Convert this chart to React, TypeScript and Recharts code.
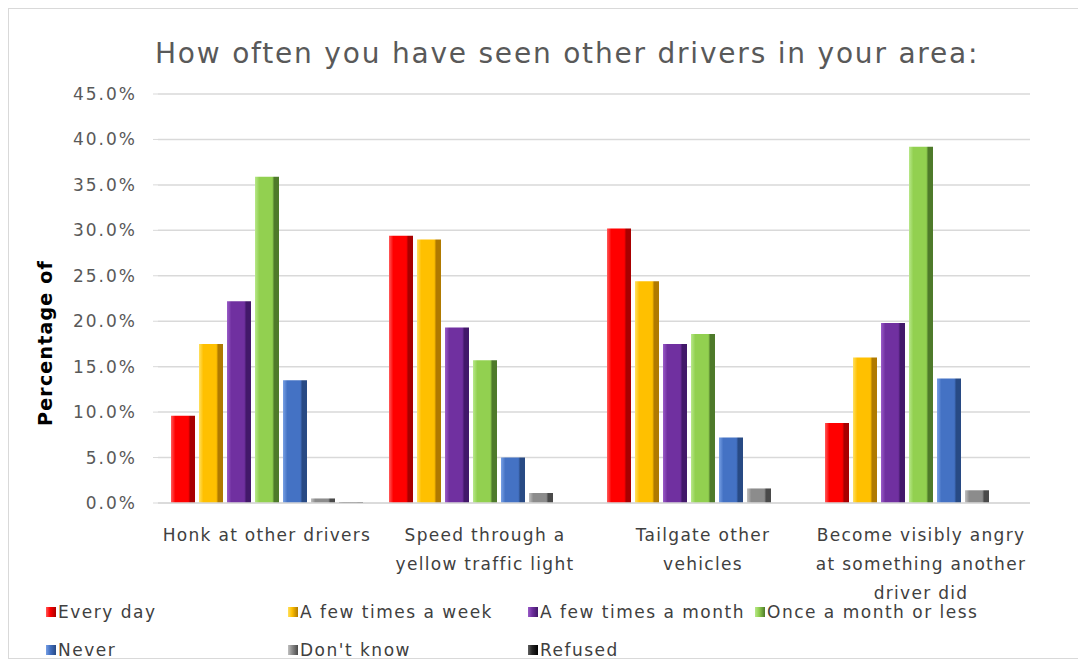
import React from "react";
import { BarChart, Bar, XAxis, YAxis, CartesianGrid } from "recharts";

const categories = [
  "Honk at other drivers",
  "Speed through a yellow traffic light",
  "Tailgate other vehicles",
  "Become visibly angry at something another driver did",
];
const categoryLines = [
  ["Honk at other drivers"],
  ["Speed through a", "yellow traffic light"],
  ["Tailgate other", "vehicles"],
  ["Become visibly angry", "at something another", "driver did"],
];

const everyDay = [9.6, 29.4, 30.2, 8.8];
const fewPerWeek = [17.5, 29.0, 24.4, 16.0];
const fewPerMonth = [22.2, 19.3, 17.5, 19.8];
const onceMonthOrLess = [35.9, 15.7, 18.6, 39.2];
const never = [13.5, 5.0, 7.2, 13.7];
const dontKnow = [0.5, 1.1, 1.6, 1.4];
const refused = [0.1, 0, 0, 0];

const yTicks = [0, 5, 10, 15, 20, 25, 30, 35, 40, 45];

const series = [
  { key: "everyDay", name: "Every day", values: everyDay, color: "#ff0000", light: "#ff5a5a", dark: "#a80000" },
  { key: "fewPerWeek", name: "A few times a week", values: fewPerWeek, color: "#ffc000", light: "#ffe060", dark: "#b07a00" },
  { key: "fewPerMonth", name: "A few times a month", values: fewPerMonth, color: "#7030a0", light: "#9a5cc8", dark: "#42186a" },
  { key: "onceMonthOrLess", name: "Once a month or less", values: onceMonthOrLess, color: "#92d050", light: "#b8e88a", dark: "#4e7a2a" },
  { key: "never", name: "Never", values: never, color: "#4472c4", light: "#78a0e4", dark: "#284a84" },
  { key: "dontKnow", name: "Don't know", values: dontKnow, color: "#8c8c8c", light: "#c0c0c0", dark: "#4a4a4a" },
  { key: "refused", name: "Refused", values: refused, color: "#262626", light: "#606060", dark: "#000000" },
];

const data = categories.map((c, i) => {
  const row: Record<string, any> = { name: c, idx: i };
  series.forEach((s) => (row[s.key] = s.values[i]));
  return row;
});

const FONT = "'DejaVu Sans', sans-serif";

function CategoryTick(props: any) {
  const { x, y, payload } = props;
  const lines = categoryLines[payload.index] || [payload.value];
  return (
    <g transform={`translate(${x},${y})`}>
      {lines.map((l, i) => (
        <text
          key={i}
          x={0}
          y={i * 29}
          dy={30}
          textAnchor="middle"
          fill="#404040"
          fontSize={17}
          letterSpacing={1.3}
          fontFamily={FONT}
        >
          {l}
        </text>
      ))}
    </g>
  );
}

function YLabel() {
  return (
    <text
      x={36}
      y={334}
      transform="rotate(-90 36 334)"
      textAnchor="middle"
      dominantBaseline="central"
      fontSize={19}
      letterSpacing={1.2}
      fontWeight="bold"
      fill="#000"
      fontFamily={FONT}
    >
      Percentage of
    </text>
  );
}

const legendRows = [
  [
    { s: 0, left: 37 },
    { s: 1, left: 279 },
    { s: 2, left: 519 },
    { s: 3, left: 746 },
  ],
  [
    { s: 4, left: 37 },
    { s: 5, left: 279 },
    { s: 6, left: 519 },
  ],
];

export default function App() {
  return (
    <div
      style={{
        position: "relative",
        width: 1070,
        height: 649,
        border: "1px solid #d9d9d9",
        background: "#fff",
        fontFamily: FONT,
      }}
    >
      <div
        style={{
          position: "absolute",
          left: 146,
          top: 30,
          fontSize: 28,
          letterSpacing: 1.8,
          lineHeight: "30px",
          color: "#595959",
          whiteSpace: "nowrap",
        }}
      >
        How often you have seen other drivers in your area:
      </div>
      <BarChart
        width={1070}
        height={649}
        data={data}
        margin={{ top: 85, right: 49, left: 0, bottom: 0 }}
        barSize={24}
        barGap={4}
      >
        <defs>
          {series.map((s) => (
            <linearGradient key={s.key} id={`g-${s.key}`} x1="0" y1="0" x2="1" y2="0">
              <stop offset="0%" stopColor={s.light} />
              <stop offset="18%" stopColor={s.color} />
              <stop offset="72%" stopColor={s.color} />
              <stop offset="80%" stopColor={s.dark} />
              <stop offset="100%" stopColor={s.dark} />
            </linearGradient>
          ))}
        </defs>
        <CartesianGrid vertical={false} stroke="#d9d9d9" strokeWidth={1.5} />
        <XAxis
          dataKey="name"
          height={155}
          interval={0}
          tick={<CategoryTick />}
          tickLine={false}
          axisLine={{ stroke: "#d9d9d9", strokeWidth: 1.5 }}
        />
        <YAxis
          width={149}
          domain={[0, 45]}
          ticks={yTicks}
          interval={0}
          tickFormatter={(v: number) => `${v.toFixed(1)}%`}
          tick={{ fill: "#595959", fontSize: 17, letterSpacing: 2, fontFamily: FONT }}
          tickLine={{ stroke: "#d9d9d9" }}
          tickSize={5}
          tickMargin={16}
          axisLine={false}
          label={<YLabel />}
        />
        {series.map((s) => (
          <Bar
            key={s.key}
            dataKey={s.key}
            name={s.name}
            fill={`url(#g-${s.key})`}
            isAnimationActive={false}
          />
        ))}
      </BarChart>
      {legendRows.map((row, r) => (
        <div key={r}>
          {row.map((it) => {
            const s = series[it.s];
            return (
              <div
                key={s.key}
                style={{
                  position: "absolute",
                  left: it.left,
                  top: 593 + r * 38,
                  display: "flex",
                  alignItems: "center",
                  fontSize: 17,
                  letterSpacing: 1.5,
                  color: "#404040",
                  whiteSpace: "nowrap",
                }}
              >
                <span
                  style={{
                    display: "inline-block",
                    width: 10,
                    height: 10,
                    marginRight: 2,
                    background: `linear-gradient(90deg, ${s.light}, ${s.color} 40%, ${s.dark})`,
                  }}
                />
                {s.name}
              </div>
            );
          })}
        </div>
      ))}
    </div>
  );
}
